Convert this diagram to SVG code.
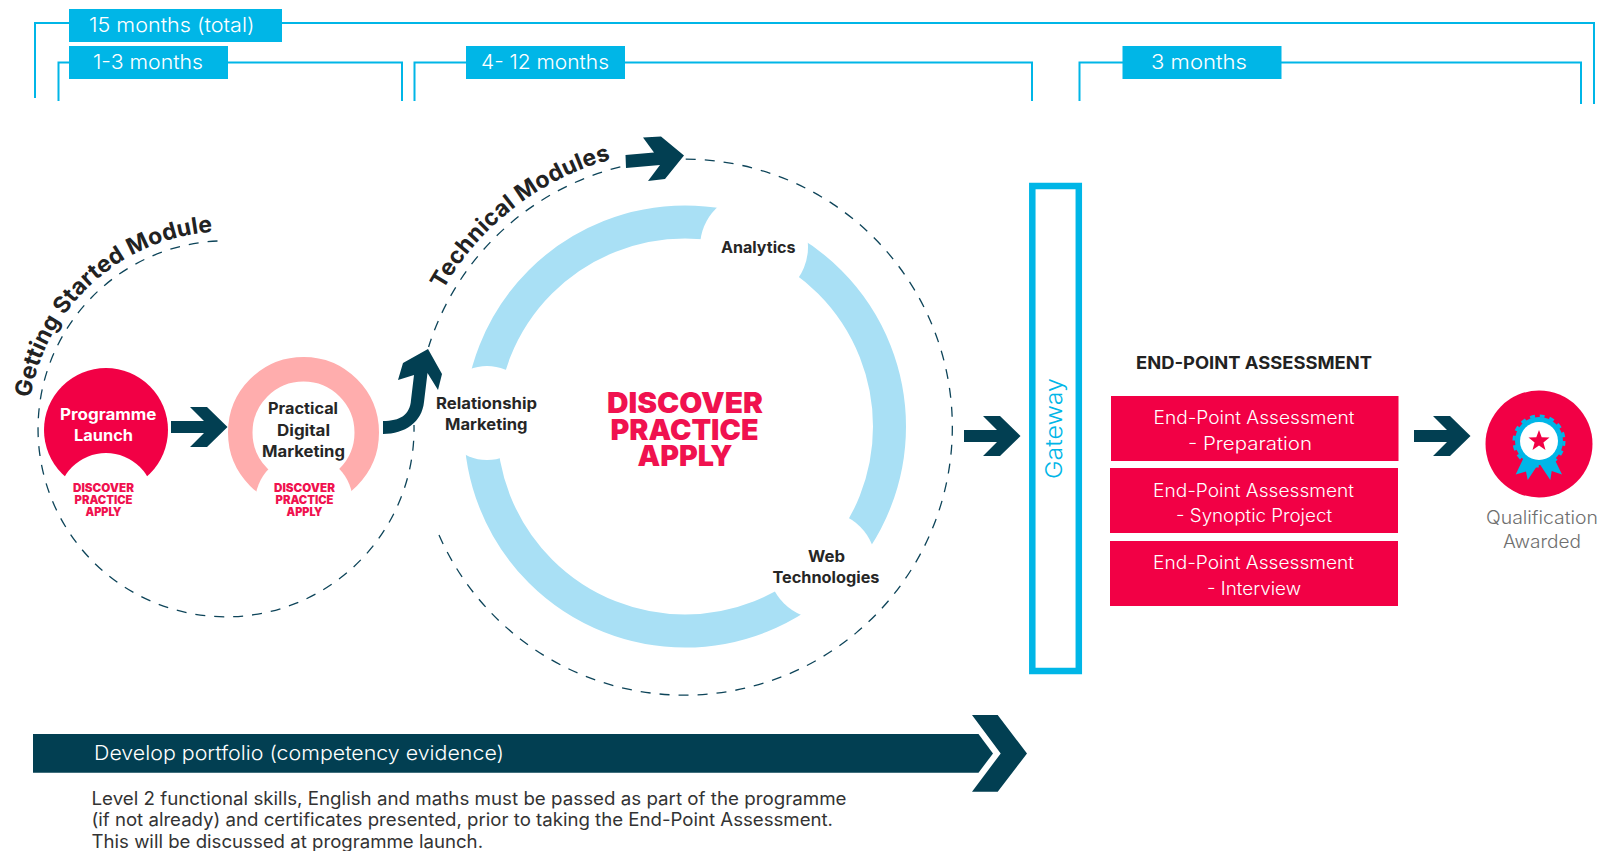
<svg xmlns="http://www.w3.org/2000/svg" width="1609" height="851" viewBox="0 0 1609 851">
<style>
text{font-family:Inter,"Open Sans","Liberation Sans",sans-serif}
.br{fill:none;stroke:#00b6e7;stroke-width:2}
.tag{fill:#00b6e7}
.tt{fill:#fff;font-size:20px;font-weight:300}
.dash{fill:none;stroke:#0d4459;stroke-width:1.3;stroke-dasharray:10 9}
.dark{fill:#023f52}
.ring{fill:none;stroke:#a9e0f5;stroke-width:33}
.wh{fill:#fff}
.lb{fill:#262626;font-size:15.5px;font-weight:700}
.lw{fill:#fff;font-size:15.5px;font-weight:700}
.dp{fill:#f0124f;font-weight:900;font-size:11.5px}
.dpl{fill:#f0124f;font-weight:900;font-size:29px}
.red{fill:#f20045}
.bx{fill:#fff;font-size:18px;font-weight:300}
.ft{fill:#333;font-size:18px;font-weight:400}
.cv{fill:#222;font-size:23px;font-weight:700}
.ql{fill:#6f6f6f;font-size:18px;font-weight:300}
</style>
<defs>
<path id="arcG" d="M30.5,398 A198,198 0 0 1 212,232"/>
<path id="arcT" d="M443,290 A277,277 0 0 1 611,159.5"/>
<polygon id="chev" points="0,0 33,0 19,-14 36,-14 56.5,6 36,26 19,26 33,12 0,12"/>
</defs>

<g id="timeline">
<path class="br" d="M35,98V23H1594V104"/>
<rect class="tag" x="69" y="9" width="213" height="33"/>
<text class="tt" x="89" y="32" textLength="165.500" lengthAdjust="spacingAndGlyphs">15 months (total)</text>
<path class="br" d="M58.500,101V62.500H402V101"/>
<rect class="tag" x="69" y="46" width="159" height="33"/>
<text class="tt" x="93" y="69" textLength="110" lengthAdjust="spacingAndGlyphs">1-3 months</text>
<path class="br" d="M414.500,101V62.500H1032V101"/>
<rect class="tag" x="466" y="46" width="159" height="33"/>
<text class="tt" x="481" y="69" textLength="128" lengthAdjust="spacingAndGlyphs">4- 12 months</text>
<path class="br" d="M1079.500,101V62.500H1581V104"/>
<rect class="tag" x="1122.500" y="46" width="159" height="33"/>
<text class="tt" x="1151" y="69" textLength="96" lengthAdjust="spacingAndGlyphs">3 months</text>
</g>

<g id="technical-ring">
<circle class="ring" cx="685" cy="426.500" r="204.500"/>
</g>

<g id="node-programme-launch">
<circle class="red" cx="106" cy="430" r="62"/>
<circle class="wh" cx="106" cy="501" r="48"/>
<text class="lw" x="60" y="420" textLength="96.500" lengthAdjust="spacingAndGlyphs">Programme</text>
<text class="lw" x="74" y="440.500" textLength="59" lengthAdjust="spacingAndGlyphs">Launch</text>
<text class="dp" x="73" y="492" textLength="61" lengthAdjust="spacingAndGlyphs">DISCOVER</text>
<text class="dp" x="74.500" y="504" textLength="58" lengthAdjust="spacingAndGlyphs">PRACTICE</text>
<text class="dp" x="85.500" y="516" textLength="36" lengthAdjust="spacingAndGlyphs">APPLY</text>
</g>

<g id="node-practical-digital-marketing">
<circle cx="303.500" cy="432.500" r="63.250" fill="none" stroke="#ffadad" stroke-width="24.500"/>
<circle class="wh" cx="304" cy="503" r="49"/>
<text class="lb" x="268" y="414" textLength="70" lengthAdjust="spacingAndGlyphs">Practical</text>
<text class="lb" x="277" y="435.500" textLength="53" lengthAdjust="spacingAndGlyphs">Digital</text>
<text class="lb" x="262" y="456.500" textLength="83" lengthAdjust="spacingAndGlyphs">Marketing</text>
<text class="dp" x="274" y="492" textLength="61" lengthAdjust="spacingAndGlyphs">DISCOVER</text>
<text class="dp" x="275.500" y="504" textLength="58" lengthAdjust="spacingAndGlyphs">PRACTICE</text>
<text class="dp" x="286.500" y="516" textLength="36" lengthAdjust="spacingAndGlyphs">APPLY</text>
</g>

<g id="node-relationship-marketing">
<circle class="wh" cx="487" cy="413" r="47"/>
<text class="lb" x="436" y="409" textLength="101" lengthAdjust="spacingAndGlyphs">Relationship</text>
<text class="lb" x="445" y="430" textLength="82.500" lengthAdjust="spacingAndGlyphs">Marketing</text>
</g>

<g id="node-analytics">
<circle class="wh" cx="754" cy="247" r="54"/>
<text class="lb" x="721" y="253" textLength="74.500" lengthAdjust="spacingAndGlyphs">Analytics</text>
</g>

<g id="node-web-technologies">
<circle class="wh" cx="822" cy="565" r="54"/>
<text class="lb" x="808" y="562" textLength="37" lengthAdjust="spacingAndGlyphs">Web</text>
<text class="lb" x="772.500" y="582.500" textLength="107" lengthAdjust="spacingAndGlyphs">Technologies</text>
</g>

<g id="node-discover-practice-apply">
<text class="dpl"><tspan x="607" y="413" textLength="156" lengthAdjust="spacingAndGlyphs">DISCOVER</tspan><tspan x="610.500" y="440" textLength="148" lengthAdjust="spacingAndGlyphs">PRACTICE</tspan><tspan x="637.500" y="466" textLength="95" lengthAdjust="spacingAndGlyphs">APPLY</tspan></text>
</g>

<g id="module-labels">
<text class="cv"><textPath href="#arcG" textLength="266">Getting Started Module</textPath></text>
<text class="cv"><textPath href="#arcT" textLength="218">Technical Modules</textPath></text>
</g>

<g id="connectors">
<path class="dash" d="M217.500,241 A188,188 0 1 0 414,425"/>
<path class="dash" d="M439,535 A268,268 0 1 0 428.600,347"/>
<use href="#chev" class="dark" x="171" y="421"/>
<path class="dark" d="M383,421C400,421 410,415 411,400L414,375L398,380L403,363L428,349L442,374L438,390L427.500,373L424,402C422,422 405,434 383,434Z"/>
<polygon class="dark" points="625.500,155 654,152.500 643,137.500 661,136.500 684,155.500 665,179 648,181 660,165 626,168"/>
<use href="#chev" class="dark" x="964" y="430"/>
<use href="#chev" class="dark" x="1414" y="430"/>
</g>

<g id="node-gateway">
<rect x="1032.300" y="186" width="46.500" height="485" fill="none" stroke="#00b6e7" stroke-width="6.500"/>
<text x="1062" y="479" transform="rotate(-90 1062 479)" fill="#00b6e7" font-size="23" font-weight="300" textLength="101" lengthAdjust="spacingAndGlyphs">Gateway</text>
</g>

<g id="node-end-point-assessment">
<text x="1136" y="368.500" fill="#222" font-size="17.500" font-weight="700" textLength="236" lengthAdjust="spacingAndGlyphs">END-POINT ASSESSMENT</text>
<rect class="red" x="1111" y="396" width="287.500" height="65"/>
<text class="bx" x="1153.500" y="424" textLength="201" lengthAdjust="spacingAndGlyphs">End-Point Assessment</text>
<text class="bx" x="1188" y="449.500" textLength="124" lengthAdjust="spacingAndGlyphs">- Preparation</text>
<rect class="red" x="1110" y="468" width="288" height="65"/>
<text class="bx" x="1153" y="497" textLength="201" lengthAdjust="spacingAndGlyphs">End-Point Assessment</text>
<text class="bx" x="1176" y="521.500" textLength="156" lengthAdjust="spacingAndGlyphs">- Synoptic Project</text>
<rect class="red" x="1110" y="541" width="288" height="65"/>
<text class="bx" x="1153" y="569" textLength="201" lengthAdjust="spacingAndGlyphs">End-Point Assessment</text>
<text class="bx" x="1207" y="594.500" textLength="94" lengthAdjust="spacingAndGlyphs">- Interview</text>
</g>

<g id="node-qualification-awarded">
<circle class="red" cx="1539" cy="444" r="53.500"/>
<polygon fill="#00b6e7" points="1524,457 1515.700,474.500 1526,471.500 1527.700,480 1539,463 1550.300,480 1551.700,471 1562,474.500 1553.500,457"/>
<circle cx="1539" cy="441" r="24" fill="#00b6e7"/>
<circle cx="1539" cy="441" r="25" fill="none" stroke="#00b6e7" stroke-width="3" stroke-dasharray="4.900 4.920"/>
<circle class="wh" cx="1539" cy="441" r="19"/>
<polygon class="red" points="1539,430 1541.700,437.300 1549.500,437.600 1543.400,442.400 1545.500,449.900 1539,445.600 1532.500,449.900 1534.600,442.400 1528.500,437.600 1536.300,437.300"/>
<text class="ql" x="1486" y="523.500" textLength="112" lengthAdjust="spacingAndGlyphs">Qualification</text>
<text class="ql" x="1503" y="547.500" textLength="78" lengthAdjust="spacingAndGlyphs">Awarded</text>
</g>

<g id="node-portfolio">
<polygon class="dark" points="33,734 978.500,734 993,753.500 978.500,772.700 33,772.700"/>
<polygon class="dark" points="972,715 997.700,715 1027,753.500 997.700,791.700 972,791.700 1000.700,753.500"/>
<text x="94" y="760" fill="#fff" font-size="20" font-weight="300" textLength="410" lengthAdjust="spacingAndGlyphs">Develop portfolio (competency evidence)</text>
</g>

<g id="note">
<text class="ft" x="91.500" y="804.500" textLength="755" lengthAdjust="spacingAndGlyphs">Level 2 functional skills, English and maths must be passed as part of the programme</text>
<text class="ft" x="91.500" y="826" textLength="741.500" lengthAdjust="spacingAndGlyphs">(if not already) and certificates presented, prior to taking the End-Point Assessment.</text>
<text class="ft" x="91.500" y="847.500" textLength="391.500" lengthAdjust="spacingAndGlyphs">This will be discussed at programme launch.</text>
</g>
</svg>
